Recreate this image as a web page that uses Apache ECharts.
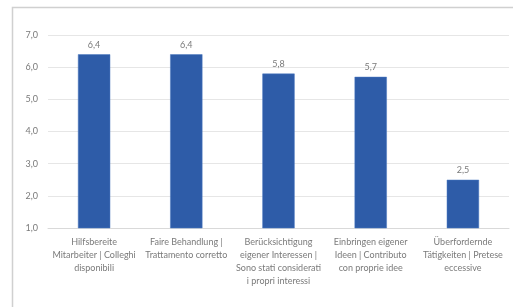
<!DOCTYPE html>
<html>
<head>
<meta charset="utf-8">
<script src="https://cdn.jsdelivr.net/npm/echarts@6/dist/echarts.min.js"></script>
<style>
  html, body { margin: 0; padding: 0; background: #fff; }
  #main { width: 513px; height: 307px; }
</style>
</head>
<body>
<div id="main"></div>
<script>
const categories = [
  'Hilfsbereite\nMitarbeiter | Colleghi\ndisponibili',
  'Faire Behandlung |\nTrattamento corretto',
  'Berücksichtigung\neigener Interessen |\nSono stati considerati\ni propri interessi',
  'Einbringen eigener\nIdeen | Contributo\ncon proprie idee',
  'Überfordernde\nTätigkeiten | Pretese\neccessive'
]
const values = [6.4, 6.4, 5.8, 5.7, 2.5]
const yMin = 1
const yMax = 7

const fmt = v => v.toFixed(1).replace('.', ',')

let myChart = echarts.init(document.getElementById('main'))
let option = {
  animation: false,
  textStyle: { fontFamily: 'Lato' },
  graphic: [
    {
      type: 'polyline',
      shape: { points: [[12.5, 307], [12.5, 7.5], [513, 7.5]] },
      style: { stroke: '#d0d0d0', lineWidth: 1.5, fill: null }
    }
  ],
  grid: { left: 48, right: 4, top: 35, bottom: 79 },
  xAxis: {
    type: 'category',
    data: categories,
    axisTick: { show: false },
    axisLine: { lineStyle: { color: '#d9d9d9' } },
    axisLabel: {
      interval: 0,
      color: '#7a7a7a',
      fontSize: 9,
      lineHeight: 13,
      margin: 8
    }
  },
  yAxis: {
    type: 'value',
    min: yMin,
    max: yMax,
    interval: 1,
    axisLine: { show: false },
    axisTick: { show: false },
    splitLine: { lineStyle: { color: '#e6e6e6' } },
    axisLabel: {
      color: '#7a7a7a',
      fontSize: 9,
      margin: 10,
      formatter: v => fmt(v)
    }
  },
  series: [
    {
      type: 'bar',
      data: values,
      barWidth: '35%',
      itemStyle: { color: '#2e5ca8', borderColor: '#4a78c0', borderWidth: 0.5 },
      label: {
        show: true,
        position: 'top',
        distance: 5,
        color: '#7a7a7a',
        fontSize: 9,
        formatter: p => fmt(p.value)
      }
    }
  ]
}
myChart.setOption(option)
</script>
</body>
</html>
